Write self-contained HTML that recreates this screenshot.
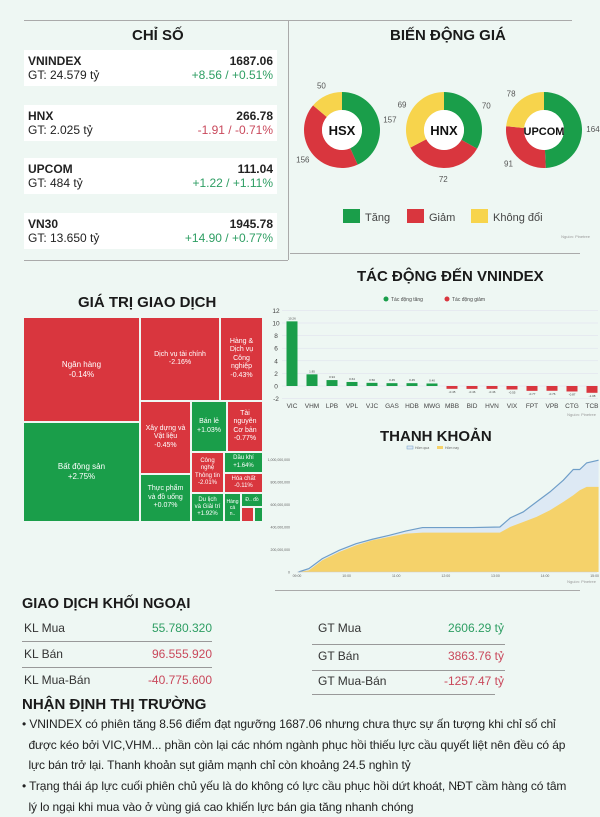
<!DOCTYPE html>
<html><head><meta charset="utf-8">
<style>
*{margin:0;padding:0;box-sizing:border-box}
body{width:600px;height:800px;background:#eef7f3;font-family:"Liberation Sans",sans-serif;position:relative;overflow:hidden;color:#222}
.abs{position:absolute}
.title{position:absolute;font-weight:bold;color:#1a1a1a;white-space:nowrap}
.card{position:absolute;left:24px;width:253px;height:36px;background:#fff;font-size:12px}
.card .n{position:absolute;left:4px;top:4px;font-weight:bold}
.card .g{position:absolute;left:4px;top:18px}
.card .v{position:absolute;right:4px;top:4px;font-weight:bold}
.card .c{position:absolute;right:4px;top:18px}
.up{color:#2e9e63}.dn{color:#c9485b}
.tm{position:absolute;color:#fff;font-size:7px;text-align:center;display:flex;align-items:center;justify-content:center;line-height:1.2;border:1px solid #eef7f3;overflow:hidden}
.R{background:#d9363e}.G{background:#1a9e4a}
.kl{position:absolute;font-size:12px;color:#333}
.kv{position:absolute;font-size:12px;text-align:right}
.ln{position:absolute;height:1px;background:#999}
.bul{position:absolute;left:22px;width:580px;font-size:12px;line-height:20.5px;color:#222;white-space:nowrap;letter-spacing:-0.1px}
</style></head><body>
<div class="abs" style="left:24px;top:20px;width:548px;height:1px;background:#aaa"></div>
<div class="abs" style="left:288px;top:20px;width:1px;height:240px;background:#aaa"></div>
<div class="abs" style="left:24px;top:260px;width:264px;height:1px;background:#aaa"></div>
<div class="abs" style="left:290px;top:253px;width:290px;height:1px;background:#aaa"></div>

<div class="title" style="left:132px;top:27px;font-size:15px">CHỈ SỐ</div>
<div class="card" style="top:50px"><span class="n">VNINDEX</span><span class="g">GT: 24.579 tỷ</span><span class="v">1687.06</span><span class="c up">+8.56 / +0.51%</span></div>
<div class="card" style="top:105px"><span class="n">HNX</span><span class="g">GT: 2.025 tỷ</span><span class="v">266.78</span><span class="c dn">-1.91 / -0.71%</span></div>
<div class="card" style="top:158px"><span class="n">UPCOM</span><span class="g">GT: 484 tỷ</span><span class="v">111.04</span><span class="c up">+1.22 / +1.11%</span></div>
<div class="card" style="top:213px"><span class="n">VN30</span><span class="g">GT: 13.650 tỷ</span><span class="v">1945.78</span><span class="c up">+14.90 / +0.77%</span></div>

<div class="title" style="left:390px;top:27px;font-size:15px">BIẾN ĐỘNG GIÁ</div>
<svg class="abs" id="donuts" style="left:0;top:0" width="600" height="250"></svg>

<div class="title" style="left:357px;top:268px;font-size:15px">TÁC ĐỘNG ĐẾN VNINDEX</div>
<svg class="abs" id="bars" style="left:0;top:0" width="600" height="420"></svg>

<div class="title" style="left:78px;top:294px;font-size:15px">GIÁ TRỊ GIAO DỊCH</div>
<div>
<div class="tm R" style="left:23px;top:317px;width:117px;height:105px;font-size:8px">Ngân hàng<br>-0.14%</div>
<div class="tm G" style="left:23px;top:422px;width:117px;height:100px;font-size:8px">Bất động sản<br>+2.75%</div>
<div class="tm R" style="left:140px;top:317px;width:80px;height:84px">Dịch vụ tài chính<br>-2.16%</div>
<div class="tm R" style="left:220px;top:317px;width:43px;height:84px">Hàng &amp;<br>Dịch vụ<br>Công<br>nghiệp<br>-0.43%</div>
<div class="tm R" style="left:140px;top:401px;width:51px;height:73px">Xây dựng và<br>Vật liệu<br>-0.45%</div>
<div class="tm G" style="left:140px;top:474px;width:51px;height:48px">Thực phẩm<br>và đồ uống<br>+0.07%</div>
<div class="tm G" style="left:191px;top:401px;width:36px;height:51px">Bán lẻ<br>+1.03%</div>
<div class="tm R" style="left:227px;top:401px;width:36px;height:51px">Tài<br>nguyên<br>Cơ bản<br>-0.77%</div>
<div class="tm R" style="left:191px;top:452px;width:33px;height:41px;font-size:6px">Công<br>nghệ<br>Thông tin<br>-2.01%</div>
<div class="tm G" style="left:191px;top:493px;width:33px;height:29px;font-size:6px">Du lịch<br>và Giải trí<br>+1.92%</div>
<div class="tm G" style="left:224px;top:452px;width:39px;height:21px;font-size:6px">Dầu khí<br>+1.64%</div>
<div class="tm R" style="left:224px;top:473px;width:39px;height:20px;font-size:6px">Hóa chất<br>-0.11%</div>
<div class="tm G" style="left:224px;top:493px;width:17px;height:29px;font-size:5px">Hàng<br>cá<br>n..</div>
<div class="tm G" style="left:241px;top:493px;width:22px;height:14px;font-size:5px">Đ.. đồ</div>
<div class="tm R" style="left:241px;top:507px;width:13px;height:15px"></div>
<div class="tm G" style="left:254px;top:507px;width:9px;height:15px"></div>
</div>

<div class="title" style="left:380px;top:428px;font-size:15px">THANH KHOẢN</div>
<svg class="abs" id="liq" style="left:0;top:0" width="600" height="600"></svg>
<div class="abs" style="left:275px;top:590px;width:305px;height:1px;background:#aaa"></div>

<div class="title" style="left:22px;top:596px;font-size:14.5px">GIAO DỊCH KHỐI NGOẠI</div>
<div class="kl" style="left:24px;top:621px">KL Mua</div>
<div class="kv up" style="right:388px;top:621px">55.780.320</div>
<div class="ln" style="left:22px;top:641px;width:190px"></div>
<div class="kl" style="left:24px;top:647px">KL Bán</div>
<div class="kv dn" style="right:388px;top:647px">96.555.920</div>
<div class="ln" style="left:22px;top:667px;width:190px"></div>
<div class="kl" style="left:24px;top:673px">KL Mua-Bán</div>
<div class="kv dn" style="right:388px;top:673px">-40.775.600</div>
<div class="kl" style="left:318px;top:621px">GT Mua</div>
<div class="kv up" style="right:96px;top:621px">2606.29 tỷ</div>
<div class="ln" style="left:312px;top:644px;width:193px"></div>
<div class="kl" style="left:318px;top:649px">GT Bán</div>
<div class="kv dn" style="right:96px;top:649px">3863.76 tỷ</div>
<div class="ln" style="left:312px;top:670px;width:193px"></div>
<div class="kl" style="left:318px;top:674px">GT Mua-Bán</div>
<div class="kv dn" style="right:96px;top:674px">-1257.47 tỷ</div>
<div class="ln" style="left:312px;top:694px;width:183px"></div>

<div class="title" style="left:22px;top:696px;font-size:15px">NHẬN ĐỊNH THỊ TRƯỜNG</div>
<div class="bul" style="top:714px">• VNINDEX có phiên tăng 8.56 điểm đạt ngưỡng 1687.06 nhưng chưa thực sự ấn tượng khi chỉ số chỉ<br>&nbsp;&nbsp;được kéo bởi VIC,VHM... phần còn lại các nhóm ngành phục hồi thiếu lực cầu quyết liệt nên đều có áp<br>&nbsp;&nbsp;lực bán trở lại. Thanh khoản sụt giảm mạnh chỉ còn khoảng 24.5 nghìn tỷ</div>
<div class="bul" style="top:776px">• Trạng thái áp lực cuối phiên chủ yếu là do không có lực cầu phục hồi dứt khoát, NĐT cầm hàng có tâm<br>&nbsp;&nbsp;lý lo ngại khi mua vào ở vùng giá cao khiến lực bán gia tăng nhanh chóng</div>

<script>
const NS='http://www.w3.org/2000/svg';
function mk(p,t,a){const e=document.createElementNS(NS,t);for(const k in a)e.setAttribute(k,a[k]);p.appendChild(e);return e;}
const exchanges=['HSX','HNX','UPCOM'];
const upCounts=[157,70,164];
const downCounts=[156,72,91];
const flatCounts=[50,69,78];
const donutColors=['#1a9e4a','#d9363e','#f7d44c'];
const ds=document.getElementById('donuts');
const cxs=[342,444,544];
exchanges.forEach((ex,i)=>{
  const vals=[upCounts[i],downCounts[i],flatCounts[i]];
  const tot=vals.reduce((a,b)=>a+b,0);
  let a0=0;const cx=cxs[i],cy=130,R=38,r=20;
  vals.forEach((v,j)=>{
    const a1=a0+v/tot*2*Math.PI;
    const p=(a,rad)=>[cx+rad*Math.sin(a),cy-rad*Math.cos(a)];
    const L=(a1-a0)>Math.PI?1:0;
    const [x0,y0]=p(a0,R),[x1,y1]=p(a1,R),[x2,y2]=p(a1,r),[x3,y3]=p(a0,r);
    const s=mk(ds,'path',{d:`M${x0},${y0}A${R},${R} 0 ${L} 1 ${x1},${y1}L${x2},${y2}A${r},${r} 0 ${L} 0 ${x3},${y3}Z`,fill:donutColors[j]});
    
    
    const am=(a0+a1)/2;const [lx,ly]=p(am,R+11);
    const t=mk(ds,'text',{x:lx,y:ly+3,'font-size':'8','text-anchor':'middle',fill:'#555'});t.textContent=v;
    
    
    a0=a1;
  });
  mk(ds,'circle',{cx:cx,cy:cy,r:r,fill:'#fff'});
  const t=mk(ds,'text',{x:cx,y:cy+5,'font-size':ex.length>3?'11':'13','font-weight':'bold','text-anchor':'middle',fill:'#111'});t.textContent=ex;
  
  
});
const legNames=['Tăng','Giảm','Không đổi'];
[343,407,471].forEach((x,j)=>{
  const r=mk(ds,'rect',{x:x,y:209,width:17,height:14,fill:donutColors[j]});
  
  
  const t=mk(ds,'text',{x:x+22,y:221,'font-size':'11',fill:'#444'});t.textContent=legNames[j];
  
  
});
const src1=mk(ds,'text',{x:590,y:238,'font-size':'4','text-anchor':'end',fill:'#999'});src1.textContent='Nguồn: Pinetree';

const tickers=['VIC','VHM','LPB','VPL','VJC','GAS','HDB','MWG','MBB','BID','HVN','VIX','FPT','VPB','CTG','TCB'];
const impacts=[10.26,1.85,0.94,0.64,0.5,0.45,0.45,0.4,-0.45,-0.46,-0.46,-0.55,-0.77,-0.76,-0.87,-1.08];
const yTicks=[12,10,8,6,4,2,0,-2];
const bs=document.getElementById('bars');
const by=v=>386-v*6.3, bx=i=>292+i*20;
yTicks.forEach(v=>{
  mk(bs,'line',{x1:282,x2:598,y1:by(v),y2:by(v),stroke:'#dde','stroke-width':0.5});
  const t=mk(bs,'text',{x:276,y:by(v)+2.5,'font-size':'6.5','text-anchor':'middle',fill:'#444'});t.textContent=v;
  
  
});
impacts.forEach((v,i)=>{
  const y0=by(Math.max(v,0)),h=Math.abs(v)*6.3;
  const r=mk(bs,'rect',{x:bx(i)-5.5,y:y0,width:11,height:h,fill:v>=0?'#1a9e4a':'#d9363e'});
  
  
  const vl=mk(bs,'text',{x:bx(i),y:v>=0?y0-2:y0+h+4,'font-size':'3','text-anchor':'middle',fill:'#444'});vl.textContent=v.toFixed(2);
  const t=mk(bs,'text',{x:bx(i),y:408,'font-size':'6.5','text-anchor':'middle',fill:'#444'});t.textContent=tickers[i];
  
  
});
mk(bs,'circle',{cx:386,cy:299,r:2.5,fill:'#1a9e4a'});
const l1=mk(bs,'text',{x:391,y:301,'font-size':'5',fill:'#444'});l1.textContent='Tác động tăng';
mk(bs,'circle',{cx:447,cy:299,r:2.5,fill:'#d9363e'});
const l2=mk(bs,'text',{x:452,y:301,'font-size':'5',fill:'#444'});l2.textContent='Tác động giảm';
const src2=mk(bs,'text',{x:596,y:416,'font-size':'4','text-anchor':'end',fill:'#999'});src2.textContent='Nguồn: Pinetree';

const hours=[9.03,9.24,9.51,9.85,10.19,10.52,10.86,11.2,11.53,11.86,12.2,12.53,13.09,13.3,13.56,13.83,14.1,14.37,14.57,14.7,14.84,15.08];
const prevLiq=[0,30,119,193,252,291,326,365,395,395,395,395,400,481,534,623,712,816,911,911,970,994];
const todayLiq=[0,15,104,178,237,282,312,341,350,350,350,350,350,401,445,490,549,623,682,727,757,757];
const liqTicks=[0,200,400,600,800,1000];
const timeTicks=['09:00','10:00','11:00','12:00','13:00','14:00','15:00'];
const ls=document.getElementById('liq');
const lx=h=>297+(h-9)*49.6, ly=v=>572-v*0.1125;
liqTicks.forEach(v=>{
  const t=mk(ls,'text',{x:290,y:ly(v)+1.5,'font-size':'3.5','text-anchor':'end',fill:'#666'});t.textContent=v===0?'0':(v*1e6).toLocaleString('en-US');
  
  
});
timeTicks.forEach((s,i)=>{
  const t=mk(ls,'text',{x:lx(9+i),y:577,'font-size':'3.5','text-anchor':'middle',fill:'#666'});t.textContent=s;
  
  
});
const pts=arr=>arr.map((v,i)=>lx(hours[i])+','+ly(v)).join(' ');
const base=`${lx(hours[hours.length-1])},${ly(0)} ${lx(hours[0])},${ly(0)}`;
const a1=mk(ls,'polygon',{points:pts(prevLiq)+' '+base,fill:'#dde9f4'});


const a2=mk(ls,'polygon',{points:pts(todayLiq)+' '+base,fill:'#f5d26a'});


const p1=mk(ls,'polyline',{points:pts(prevLiq),fill:'none',stroke:'#6f9ec8','stroke-width':1.2});


mk(ls,'line',{x1:297,x2:597,y1:572,y2:572,stroke:'#ccc','stroke-width':0.5});
mk(ls,'rect',{x:407,y:446,width:6,height:3,fill:'#dde9f4',stroke:'#6f9ec8','stroke-width':0.5});
const t1=mk(ls,'text',{x:415,y:449,'font-size':'3.5',fill:'#666'});t1.textContent='Hôm qua';
mk(ls,'rect',{x:437,y:446,width:6,height:3,fill:'#f5d26a'});
const t2=mk(ls,'text',{x:445,y:449,'font-size':'3.5',fill:'#666'});t2.textContent='Hôm nay';
const src3=mk(ls,'text',{x:596,y:583,'font-size':'4','text-anchor':'end',fill:'#999'});src3.textContent='Nguồn: Pinetree';
</script>
</body></html>
